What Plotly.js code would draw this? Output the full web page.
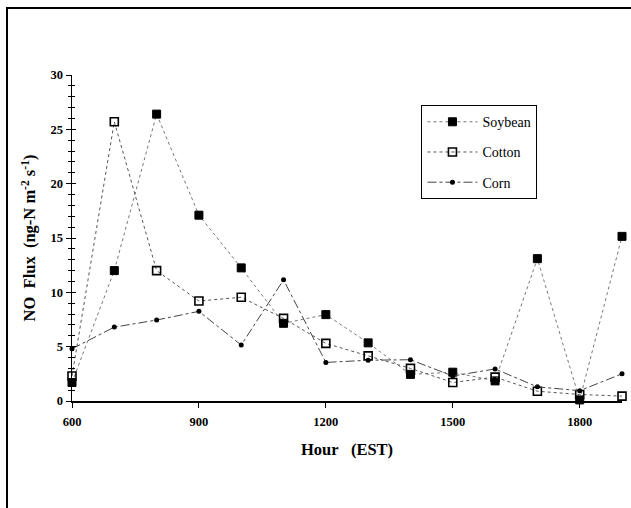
<!DOCTYPE html>
<html>
<head>
<meta charset="utf-8">
<script src="https://cdn.plot.ly/plotly-3.0.1.min.js"></script>
<style>
html,body{margin:0;padding:0;background:#fff;}
#wrap{position:relative;width:631px;height:508px;overflow:hidden;}
#chart{position:absolute;left:0;top:0;width:631px;height:508px;}
#frame{position:absolute;left:6px;top:7px;width:700px;height:600px;border-left:2px solid #000;border-top:2px solid #000;pointer-events:none;}
</style>
</head>
<body>
<div id="wrap"><div id="chart"></div><div id="frame"></div></div>
<script>
const hours = [600, 700, 800, 900, 1000, 1100, 1200, 1300, 1400, 1500, 1600, 1700, 1800, 1900];
const soybean = [1.7, 12.0, 26.4, 17.1, 12.25, 7.15, 7.95, 5.35, 2.45, 2.65, 1.85, 13.1, 0.1, 15.15];
const cotton  = [2.3, 25.7, 12.0, 9.2, 9.55, 7.6, 5.3, 4.15, 3.0, 1.7, 2.2, 0.9, 0.6, 0.45];
const corn    = [4.8, 6.8, 7.45, 8.25, 5.15, 11.15, 3.55, 3.75, 3.8, 2.3, 2.95, 1.3, 0.95, 2.5];
const xTicks = [600, 900, 1200, 1500, 1800];
const yTicks = [0, 5, 10, 15, 20, 25, 30];

const serif = "Liberation Serif";

const traces = [
  {x: hours, y: soybean, name: 'Soybean', mode: 'lines+markers', legendgroup: 'a',
   line: {color: '#777', width: 1, dash: 'dot'},
   marker: {symbol: 'square', size: 8, color: '#000', line: {color: '#000', width: 1}}},
  {x: hours, y: cotton, name: 'Cotton', mode: 'lines+markers', legendgroup: 'b',
   line: {color: '#555', width: 1, dash: 'dot'},
   marker: {symbol: 'square-open', size: 8, color: '#000', line: {color: '#000', width: 1.6}}},
  {x: hours, y: corn, name: 'Corn', mode: 'lines+markers', legendgroup: 'c',
   line: {color: '#444', width: 1, dash: 'dashdot'},
   marker: {symbol: 'circle', size: 5, color: '#000'}},
  {x: [hours[0]], y: [0], yaxis: 'y2', mode: 'markers', marker: {opacity: 0}, showlegend: false, hoverinfo: 'skip'}
];
traces.forEach(t => t.cliponaxis = false);

const layout = {
  width: 631, height: 508,
  margin: {l: 72, r: 9, t: 75, b: 107},
  paper_bgcolor: '#fff', plot_bgcolor: '#fff',
  showlegend: true,
  font: {family: serif, color: '#000', size: 12},
  xaxis: {
    range: [600, 1900], tickvals: xTicks, ticktext: xTicks.map(String),
    showgrid: false, zeroline: false, showline: true, linecolor: '#000', linewidth: 1.5,
    ticks: 'outside', ticklen: 5, tickcolor: '#000', tickwidth: 1, ticklabelstandoff: 3,
    tickfont: {family: serif, size: 12.5, weight: 'bold'},
    title: {text: 'Hour\u00a0\u00a0\u00a0(EST)', font: {family: serif, size: 16.5, weight: 'bold'}, standoff: 16}
  },
  yaxis: {
    range: [0, 30], tickvals: yTicks, ticktext: yTicks.map(String),
    showgrid: false, zeroline: false, showline: true, linecolor: '#000', linewidth: 1.5,
    ticks: 'outside', ticklen: 5, tickcolor: '#000', tickwidth: 1,
    minor: {dtick: 1, ticks: 'outside', ticklen: 3, tickcolor: '#000', tickwidth: 1, showgrid: false},
    tickfont: {family: serif, size: 12.5, weight: 'bold'},
    title: {text: 'NO\u00a0\u00a0Flux\u00a0\u00a0(ng-N\u00a0m<sup>-2</sup>\u00a0s<sup>-1</sup>)', font: {family: serif, size: 16.5, weight: 'bold'}, standoff: 10}
  },
  yaxis2: {
    overlaying: 'y', range: [0, 30], showgrid: false, zeroline: false, showline: false,
    tickvals: yTicks, ticks: 'inside', ticklen: 4, tickcolor: '#000', showticklabels: false,
    minor: {dtick: 1, ticks: 'inside', ticklen: 3, tickcolor: '#000', tickwidth: 1, showgrid: false}
  },
  legend: {
    x: 0.635, y: 0.908, xanchor: 'left', yanchor: 'top',
    bgcolor: '#fff', bordercolor: '#000', borderwidth: 1.2,
    font: {family: serif, size: 14}, tracegroupgap: 9, itemwidth: 50
  }
};

Plotly.newPlot('chart', traces, layout, {displayModeBar: false, staticPlot: true});
</script>
</body>
</html>
